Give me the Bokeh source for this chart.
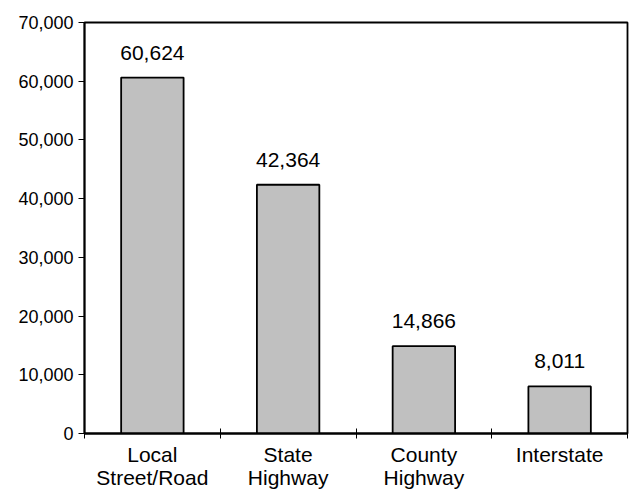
from bokeh.plotting import figure
from bokeh.models import FixedTicker, NumeralTickFormatter, ColumnDataSource, Range1d
from bokeh.core.properties import value
from bokeh.embed import file_html
from bokeh.resources import INLINE

categories = ["Local\nStreet/Road", "State\nHighway", "County\nHighway", "Interstate"]
counts = [60624, 42364, 14866, 8011]
value_labels = ["60,624", "42,364", "14,866", "8,011"]
y_ticks = [0, 10000, 20000, 30000, 40000, 50000, 60000, 70000]

FONT = "Liberation Sans"

positions = [i + 0.5 for i in range(len(categories))]
src = ColumnDataSource(dict(x=positions, top=counts, lab=value_labels))

p = figure(width=629, height=491, output_backend="svg", toolbar_location=None,
           x_range=Range1d(0, len(categories)), y_range=Range1d(0, 70000),
           min_border_left=84, min_border_right=2, min_border_top=22, min_border_bottom=54)

p.vbar(x="x", top="top", bottom=0, width=0.46, source=src,
       fill_color="#c0c0c0", line_color="black", line_width=1.8)

p.text(x="x", y="top", text="lab", source=src, text_align="center",
       text_baseline="alphabetic", y_offset=-25, text_font=value(FONT),
       text_font_size="21px", text_color="black")

p.xgrid.visible = False
p.ygrid.visible = False
p.outline_line_color = "black"
p.outline_line_width = 1.8
p.background_fill_color = "white"
p.border_fill_color = "white"

xa = p.xaxis[0]
xa.ticker = FixedTicker(ticks=positions, minor_ticks=list(range(len(categories) + 1)))
xa.major_label_overrides = {pos: c for pos, c in zip(positions, categories)}
xa.major_tick_in = 0
xa.major_tick_out = 0
xa.minor_tick_in = 5
xa.minor_tick_out = 5
xa.minor_tick_line_color = "black"
xa.axis_line_color = "black"
xa.axis_line_width = 1.8
xa.major_label_text_font = FONT
xa.major_label_text_font_size = "21px"
xa.major_label_text_line_height = 1.0
xa.major_label_text_color = "black"
xa.major_label_standoff = 4

ya = p.yaxis[0]
ya.ticker = FixedTicker(ticks=y_ticks, minor_ticks=[])
ya.formatter = NumeralTickFormatter(format="0,0")
ya.major_tick_in = 0
ya.major_tick_out = 6
ya.major_tick_line_color = "black"
ya.axis_line_color = "black"
ya.axis_line_width = 1.8
ya.major_label_text_font = FONT
ya.major_label_text_font_size = "18px"
ya.major_label_text_color = "black"
ya.major_label_standoff = 5

open("out.html", "w").write(file_html(p, INLINE))
